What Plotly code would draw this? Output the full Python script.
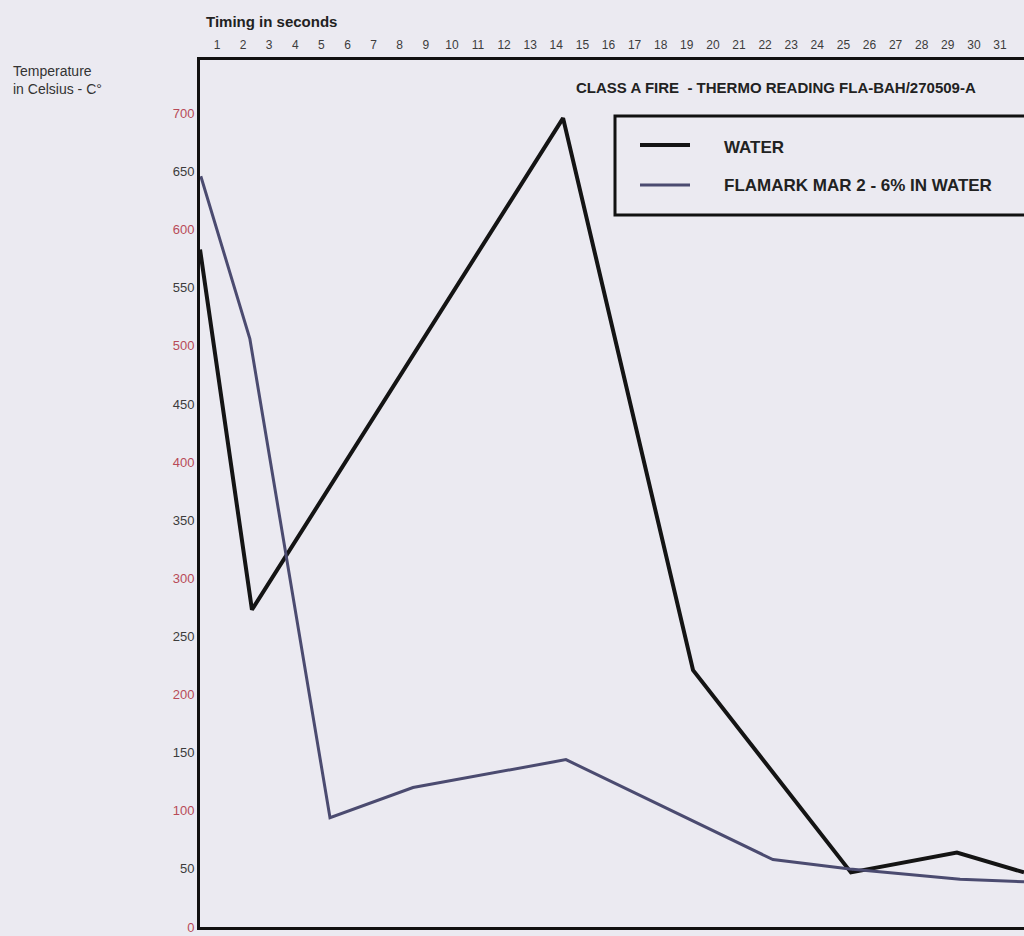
import plotly.graph_objects as go

# ---- data ----
water_x = [0.35, 2.34, 14.26, 19.24, 25.29, 29.35, 31.92]
water_y = [583, 273, 696, 221, 47, 64, 47]

flamark_x = [0.38, 2.26, 5.33, 8.51, 14.37, 22.30, 25.25, 29.47, 31.92]
flamark_y = [646, 506, 94, 120, 144, 58, 50, 41, 39]

x_ticks = list(range(1, 33))
y_ticks = [0, 50, 100, 150, 200, 250, 300, 350, 400, 450, 500, 550, 600, 650, 700]

series_names = ["WATER", "FLAMARK MAR 2 - 6% IN WATER"]
title_text = "CLASS A FIRE  - THERMO READING FLA-BAH/270509-A"
x_title = "Timing in seconds"
y_title = "Temperature<br>in Celsius - C\u00b0"

# ---- styling ----
BG = "#ebeaf1"
WATER_C = "#141414"
FLAM_C = "#4b4b70"
RED = "#b84a58"
GRAY = "#3c3c3c"
FONT = "Liberation Sans, Arial, sans-serif"

y_ticktext = [
    f"<span style='color:{RED if i % 2 == 0 else GRAY}'>{v}</span>"
    for i, v in enumerate(y_ticks)
]

fig = go.Figure()
fig.add_trace(go.Scatter(x=water_x, y=water_y, mode="lines", name=series_names[0],
                         line=dict(color=WATER_C, width=4), showlegend=False))
fig.add_trace(go.Scatter(x=flamark_x, y=flamark_y, mode="lines", name=series_names[1],
                         line=dict(color=FLAM_C, width=3), showlegend=False))

W, H = 1024, 936
L, T, B = 200, 60, 9
plot_w = W - L
plot_h = H - T - B

def px(xp):
    return (xp - L) / plot_w

def py(yp):
    return 1 - (yp - T) / plot_h

fig.update_layout(
    width=W, height=H,
    margin=dict(l=L, r=0, t=T, b=B, pad=0),
    paper_bgcolor=BG, plot_bgcolor=BG,
    font=dict(family=FONT, color=GRAY, size=12),
    showlegend=False,
    xaxis=dict(range=[0.349, 31.92], side="top", tickmode="array", tickvals=x_ticks,
               ticktext=[str(v) for v in x_ticks], showgrid=False, zeroline=False,
               showline=True, linecolor="#111111", linewidth=3, mirror=True,
               ticks="", ticklabelstandoff=3, tickfont=dict(size=12, color=GRAY)),
    yaxis=dict(range=[0, 746], tickmode="array", tickvals=y_ticks, ticktext=y_ticktext,
               showgrid=False, zeroline=False, showline=True, linecolor="#111111",
               linewidth=3, ticks="", ticklabelstandoff=0, tickfont=dict(size=13)),
)

shapes = [
    # legend box
    dict(type="rect", xref="paper", yref="paper", x0=px(615), x1=px(1040), y0=py(215), y1=py(116),
         line=dict(color="#111111", width=3), fillcolor=BG, layer="above"),
    dict(type="line", xref="paper", yref="paper", x0=px(640), x1=px(690), y0=py(145), y1=py(145),
         line=dict(color=WATER_C, width=4), layer="above"),
    dict(type="line", xref="paper", yref="paper", x0=px(640), x1=px(690), y0=py(185), y1=py(185),
         line=dict(color=FLAM_C, width=3), layer="above"),
]
fig.update_layout(shapes=shapes)

ann = [
    dict(text=f"<b>{series_names[0]}</b>", x=px(722), y=py(147), xanchor="left", yanchor="middle",
         font=dict(size=17, color="#222222")),
    dict(text=f"<b>{series_names[1]}</b>", x=px(722), y=py(185), xanchor="left", yanchor="middle",
         font=dict(size=17, color="#222222")),
    dict(text=f"<b>{title_text}</b>", x=px(776), y=py(87), xanchor="center", yanchor="middle",
         font=dict(size=15, color="#222222")),
    dict(text=f"<b>{x_title}</b>", x=px(204), y=py(22), xanchor="left", yanchor="middle",
         font=dict(size=15, color="#222222")),
    dict(text=y_title, x=px(11), y=py(61), xanchor="left", yanchor="top", align="left",
         font=dict(size=14, color="#333333")),
]
for a in ann:
    a.update(xref="paper", yref="paper", showarrow=False)
fig.update_layout(annotations=ann)

fig.write_html(
    "out.html",
    config={"displayModeBar": False},
    post_script=f"document.body.style.margin='0';document.body.style.background='{BG}';"
                "document.body.style.overflow='hidden';",
)
